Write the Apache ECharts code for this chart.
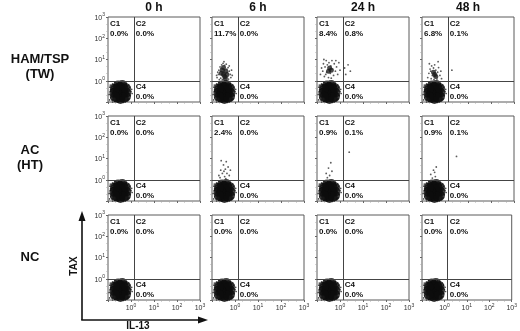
<!DOCTYPE html>
<html><head><meta charset="utf-8">
<script src="https://cdn.jsdelivr.net/npm/echarts@6/dist/echarts.min.js"></script>
<style>html,body{margin:0;padding:0;background:#fff}#c{width:520px;height:331px}</style>
</head><body><div id="c"></div>
<script>
// ---------- data (log10 fluorescence units) ----------
const timePoints = ['0 h', '6 h', '24 h', '48 h'];
const groups = [['HAM/TSP', '(TW)'], ['AC', '(HT)'], ['NC']];
const tickExponents = ['0', '1', '2', '3'];
const xAxisName = 'IL-13';
const yAxisName = 'TAX';
const gateX = 0.12;
const gateY = 0;
// quadrant percentages [row][col]
const pctC1 = [[0.0, 11.7, 8.4, 6.8], [0.0, 2.4, 0.9, 0.9], [0.0, 0.0, 0.0, 0.0]];
const pctC2 = [[0.0, 0.0, 0.8, 0.1], [0.0, 0.0, 0.1, 0.1], [0.0, 0.0, 0.0, 0.0]];
const pctC4 = [[0.0, 0.0, 0.0, 0.0], [0.0, 0.0, 0.0, 0.0], [0.0, 0.0, 0.0, 0.0]];
// double-negative (C3) population: dense core + sparse edge events
const blobCore = [[-0.72,-0.57],[-0.6,-0.35],[-0.6,-0.57],[-0.6,-0.8],[-0.46,-0.3],[-0.46,-0.45],[-0.46,-0.6],[-0.46,-0.75],[-0.46,-0.86],[-0.32,-0.35],[-0.32,-0.57],[-0.32,-0.8],[-0.2,-0.55],[-0.56,-0.22],[-0.38,-0.2],[-0.7,-0.4],[-0.7,-0.75],[-0.22,-0.75],[-0.22,-0.35]];
const blobHalo = [[-0.7,-0.08],[-0.55,-0.05],[-0.4,-0.1],[-0.3,-0.06],[-0.62,-0.12],[-0.48,-0.14],[-0.2,-0.12],[-0.8,-0.15],[-0.92,-0.3],[-0.9,-0.5],[-0.95,-0.65],[-0.88,-0.8],[-0.93,-0.9],[-0.86,-0.4],[-0.9,-0.2],[-0.05,-0.3],[0.0,-0.5],[-0.03,-0.7],[0.03,-0.4],[-0.08,-0.85],[0.05,-0.6],[-0.1,-0.2],[-0.7,-0.98],[-0.55,-1.0],[-0.4,-0.97],[-0.25,-1.0],[-0.15,-0.95],[-0.8,-1.0],[-0.6,-0.93],[-0.3,-0.92],[-0.8,-0.25],[-0.15,-0.25],[-0.82,-0.9],[-0.12,-0.88],[-0.78,-0.6],[-0.1,-0.6],[-0.65,-0.95],[-0.35,-0.98]];
// TAX+ (C1/C2) events [row][col]
const gatedCore = [
  [[], [[-0.5,0.3],[-0.4,0.45],[-0.55,0.5],[-0.45,0.2],[-0.6,0.35],[-0.35,0.3],[-0.5,0.62],[-0.42,0.1]],
   [[-0.45,0.6],[-0.38,0.5],[-0.5,0.45]],
   [[-0.45,0.3],[-0.4,0.2],[-0.5,0.4]]],
  [[], [], [], []],
  [[], [], [], []]
];
const gatedDots = [
  [[],
   [[-0.78,0.15],[-0.72,0.3],[-0.7,0.5],[-0.65,0.65],[-0.62,0.12],[-0.58,0.75],[-0.52,0.82],[-0.45,0.72],[-0.38,0.78],[-0.3,0.62],[-0.25,0.45],[-0.2,0.3],[-0.18,0.15],[-0.28,0.08],[-0.35,0.55],[-0.68,0.05],[-0.75,0.4],[-0.25,0.7],[-0.15,0.5],[-0.55,0.05],[-0.62,0.58],[-0.33,0.18],[-0.8,0.25],[-0.48,0.9],[-0.12,0.25]],
   [[-0.85,0.3],[-0.8,0.6],[-0.75,0.45],[-0.72,0.8],[-0.68,0.2],[-0.65,0.65],[-0.6,0.95],[-0.58,0.4],[-0.55,0.75],[-0.5,0.15],[-0.48,0.85],[-0.42,0.35],[-0.4,0.7],[-0.35,0.95],[-0.32,0.55],[-0.28,0.25],[-0.25,0.8],[-0.2,0.45],[-0.15,0.65],[-0.1,0.3],[-0.05,0.85],[0.0,0.5],[0.2,0.6],[0.35,0.75],[0.45,0.45],[0.25,0.3],[-0.62,0.3],[-0.38,0.12],[-0.7,1.0],[-0.18,0.95]],
   [[-0.75,0.15],[-0.7,0.35],[-0.65,0.55],[-0.6,0.1],[-0.58,0.7],[-0.55,0.25],[-0.5,0.6],[-0.45,0.75],[-0.4,0.5],[-0.35,0.08],[-0.32,0.4],[-0.28,0.62],[-0.22,0.25],[-0.18,0.45],[-0.15,0.1],[-0.62,0.45],[-0.48,0.05],[-0.3,0.9],[-0.68,0.8],[0.3,0.5]]],
  [[],
   [[-0.7,0.2],[-0.62,0.45],[-0.55,0.3],[-0.5,0.7],[-0.45,0.15],[-0.42,0.5],[-0.38,0.85],[-0.35,0.3],[-0.3,0.6],[-0.25,0.2],[-0.6,0.9],[-0.48,0.4],[-0.2,0.45],[-0.65,0.1],[-0.4,0.05]],
   [[-0.6,0.3],[-0.5,0.55],[-0.45,0.2],[-0.35,0.4],[-0.55,0.1],[-0.4,0.8],[0.4,1.3]],
   [[-0.62,0.25],[-0.5,0.45],[-0.42,0.15],[-0.38,0.6],[-0.55,0.08],[-0.45,0.35],[0.5,1.1]]],
  [[], [], [], []]
];

// ---------- layout ----------
const FONT = 'Liberation Sans, Arial, Helvetica, sans-serif';
const lefts = [108, 212, 317, 422];
const tops = [17, 116, 215];
const W = 92, H = 85;
const xMin = -1, xMax = 3, yMin = -1, yMax = 3;

const tickRich = {
  b: { fontSize: 7, color: '#333', fontFamily: FONT, lineHeight: 9, verticalAlign: 'bottom' },
  s: { fontSize: 5, color: '#333', fontFamily: FONT, lineHeight: 9, verticalAlign: 'top' }
};
const tickFmt = v => (v >= 0 ? '{b|10}{s|' + tickExponents[v] + '}' : '');

const grids = [], xAxes = [], yAxes = [], series = [], graphics = [];
let idx = 0;
for (let r = 0; r < tops.length; r++) {
  for (let c = 0; c < lefts.length; c++) {
    const L = lefts[c], T = tops[r];
    grids.push({ left: L, top: T, width: W, height: H, show: true, borderColor: '#5a5a5a', borderWidth: 1, backgroundColor: 'transparent' });
    xAxes.push({
      gridIndex: idx, type: 'value', min: xMin, max: xMax, interval: 1, position: 'bottom',
      axisLine: { show: false, onZero: false }, splitLine: { show: false },
      axisTick: { show: true, length: 2, lineStyle: { color: '#666' } },
      minorTick: { show: true, splitNumber: 3, length: 1.5, lineStyle: { color: '#aaa' } },
      axisLabel: { show: r === tops.length - 1, margin: 3, formatter: tickFmt, rich: tickRich }
    });
    yAxes.push({
      gridIndex: idx, type: 'value', min: yMin, max: yMax, interval: 1, position: 'left',
      axisLine: { show: false, onZero: false }, splitLine: { show: false },
      axisTick: { show: true, length: 2, lineStyle: { color: '#666' } },
      minorTick: { show: true, splitNumber: 3, length: 1.5, lineStyle: { color: '#aaa' } },
      axisLabel: { show: c === 0, margin: 3, formatter: tickFmt, rich: tickRich }
    });
    series.push({
      type: 'scatter', xAxisIndex: idx, yAxisIndex: idx, data: blobHalo, symbolSize: 1.7,
      itemStyle: { color: '#222' }, silent: true, animation: false,
      markLine: { silent: true, symbol: 'none', animation: false, label: { show: false },
        lineStyle: { color: '#444', width: 1, type: 'solid' },
        data: [{ xAxis: gateX }, { yAxis: gateY }] }
    });
    series.push({ type: 'scatter', xAxisIndex: idx, yAxisIndex: idx, data: blobCore, symbolSize: 10,
      itemStyle: { color: '#0c0c0c' }, silent: true, animation: false });
    series.push({ type: 'scatter', xAxisIndex: idx, yAxisIndex: idx, data: gatedCore[r][c], symbolSize: 5,
      itemStyle: { color: '#1a1a1a' }, silent: true, animation: false });
    series.push({ type: 'scatter', xAxisIndex: idx, yAxisIndex: idx, data: gatedDots[r][c], symbolSize: 1.8,
      itemStyle: { color: '#333' }, silent: true, animation: false });

    const gx = L + (gateX - xMin) / (xMax - xMin) * W;
    const gy = T + (yMax - gateY) / (yMax - yMin) * H;
    const ts = { fill: '#111', fontSize: 8, fontWeight: 'bold', fontFamily: FONT, lineHeight: 10 };
    const f = v => v.toFixed(1) + '%';
    graphics.push({ type: 'text', x: L + 2, y: T + 2, z: 1, style: Object.assign({ text: 'C1\n' + f(pctC1[r][c]) }, ts) });
    graphics.push({ type: 'text', x: gx + 2, y: T + 2, z: 1, style: Object.assign({ text: 'C2\n' + f(pctC2[r][c]) }, ts) });
    graphics.push({ type: 'text', x: L + 2, y: gy + 1, z: 1, style: Object.assign({ text: 'C3' }, ts) });
    graphics.push({ type: 'text', x: gx + 2, y: gy + 1, z: 1, style: Object.assign({ text: 'C4\n' + f(pctC4[r][c]) }, ts) });
    idx++;
  }
}
// column headers
timePoints.forEach((t, c) => {
  graphics.push({ type: 'text', x: lefts[c] + W / 2, y: 8, style: { text: t, fill: '#111', fontSize: 12, fontWeight: 'bold', fontFamily: FONT, align: 'center', verticalAlign: 'middle' } });
});
// row labels
const rowCenters = [67, 158, 257];
const rowX = [40, 30, 30];
groups.forEach((g, r) => {
  graphics.push({ type: 'text', x: rowX[r], y: rowCenters[r], style: { text: g.join('\n'), fill: '#111', fontSize: 13, fontWeight: 'bold', fontFamily: FONT, align: 'center', verticalAlign: 'middle', lineHeight: 15 } });
});
// axis arrows
graphics.push({ type: 'line', shape: { x1: 82, y1: 320, x2: 82, y2: 219 }, style: { stroke: '#111', lineWidth: 1.6 } });
graphics.push({ type: 'polygon', shape: { points: [[82, 211], [78.5, 221], [85.5, 221]] }, style: { fill: '#111' } });
graphics.push({ type: 'line', shape: { x1: 81.2, y1: 320, x2: 199, y2: 320 }, style: { stroke: '#111', lineWidth: 1.6 } });
graphics.push({ type: 'polygon', shape: { points: [[208, 320], [198, 316.5], [198, 323.5]] }, style: { fill: '#111' } });
graphics.push({ type: 'text', x: 74, y: 266, rotation: Math.PI / 2, style: { text: yAxisName, fill: '#111', fontSize: 10, fontWeight: 'bold', fontFamily: FONT, align: 'center', verticalAlign: 'middle' } });
graphics.push({ type: 'text', x: 138, y: 326, style: { text: xAxisName, fill: '#111', fontSize: 10, fontWeight: 'bold', fontFamily: FONT, align: 'center', verticalAlign: 'middle' } });

const chart = echarts.init(document.getElementById('c'), null, { renderer: 'canvas' });
chart.setOption({ animation: false, backgroundColor: '#fff', grid: grids, xAxis: xAxes, yAxis: yAxes, series: series, graphic: graphics });
</script></body></html>
